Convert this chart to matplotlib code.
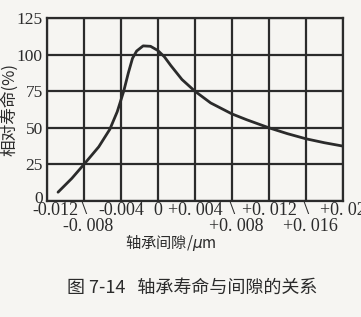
import matplotlib
matplotlib.use("Agg")
from matplotlib import pyplot as plt
from matplotlib import transforms

# bearing clearance vs relative life
clearance = [-0.0108, -0.0093, -0.008, -0.0064, -0.0052, -0.0044, -0.0041,
             -0.0037, -0.0032, -0.00275, -0.0023, -0.0016, -0.0008, 0.0,
             0.0007, 0.0014, 0.0026, 0.004, 0.0057, 0.008, 0.0096, 0.012,
             0.014, 0.016, 0.018, 0.020]
life = [6, 15.5, 25, 37, 49, 61, 67,
        75, 87.5, 97.5, 102.5, 106, 105.7, 102.8,
        98.5, 92.5, 83, 75, 67, 59.5, 55.5, 50,
        46, 42.5, 39.8, 37.5]

x_ticks = [-0.012, -0.008, -0.004, 0.0, 0.004, 0.008, 0.012, 0.016, 0.020]
x_labels = ["-0.012", "-0. 008", "-0.004", "0", "+0. 004", "+0. 008", "+0. 012", "+0. 016", "+0. 02"]
x_row = [0, 1, 0, 0, 0, 1, 0, 1, 0]   # 0 = upper row, 1 = lower row
y_ticks = [0, 25, 50, 75, 100, 125]

serif = ["Liberation Serif", "DejaVu Serif"]
cjk = ["Noto Sans CJK SC", "DejaVu Sans"]
ink = "#2b2b2b"
paper = "#f6f5f2"

fig = plt.figure(figsize=(3.61, 3.17), dpi=100, facecolor=paper)
ax = fig.add_axes([0.130, 0.366, 0.820, 0.577], facecolor=paper)

ax.plot(clearance, life, color=ink, lw=2.0, solid_capstyle="round",
        solid_joinstyle="round", zorder=3)

ax.set_xlim(-0.012, 0.020)
ax.set_ylim(0, 125)
ax.set_xticks(x_ticks)
ax.set_yticks(y_ticks)
ax.grid(True, color=ink, lw=1.6)
ax.tick_params(length=0)
ax.set_xticklabels([])
ax.set_yticklabels([str(v) for v in y_ticks], family=serif, fontsize=12.5, color=ink)
ax.tick_params(axis="y", pad=3)
for s in ax.spines.values():
    s.set_color(ink)
    s.set_linewidth(1.6)

# lift the "0" on the y axis a little so it clears the x labels
zero_lab = ax.get_yticklabels()[0]
zero_lab.set_transform(zero_lab.get_transform() +
                       transforms.ScaledTranslation(0, 3 / 72, fig.dpi_scale_trans))

tr = ax.get_xaxis_transform()
for i, (xv, lab, row) in enumerate(zip(x_ticks, x_labels, x_row)):
    if row == 0:
        # first label sits a bit right of the corner, as in the scan
        shift = 0.0009 if i == 0 else 0.0
        ax.text(xv + shift, -0.05, lab, transform=tr, ha="center", va="center",
                family=serif, fontsize=13, color=ink, clip_on=False)
    else:
        ax.text(xv + 0.0005, -0.14, lab, transform=tr, ha="center", va="center",
                family=serif, fontsize=13, color=ink, clip_on=False)
        ax.text(xv - 0.0003, 0.005, "\\", transform=tr, ha="left", va="top",
                family=serif, fontsize=16, color=ink, clip_on=False)

ax.set_ylabel("相对寿命(%)", family=cjk, fontsize=12, color=ink)
ax.yaxis.set_label_coords(-0.095, 0.5)
fig.text(0.474, 0.236, "轴承间隙/$\\mu$m", family=cjk, fontsize=11, color=ink,
         ha="center", va="center")
fig.text(0.532, 0.092, "图 7-14   轴承寿命与间隙的关系", family=cjk, fontsize=13,
         color=ink, ha="center", va="center")

fig.savefig("out.png", dpi=100, facecolor=paper)
